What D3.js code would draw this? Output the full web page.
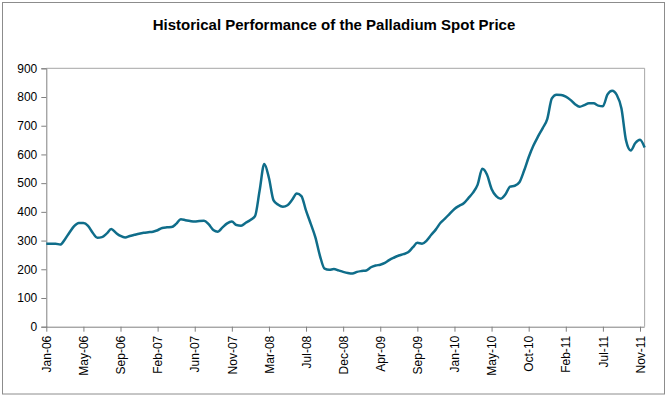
<!DOCTYPE html>
<html>
<head>
<meta charset="utf-8">
<script src="https://cdn.jsdelivr.net/npm/d3@7"></script>
<style>
  body { margin: 0; background: #fff; }
  svg text { font-family: "Liberation Sans", Arial, sans-serif; fill: #000; }
</style>
</head>
<body>
<svg id="chart"></svg>
<script>
// tamanho geral
const W = 667, H = 396;
const PAD = { left: 46.3, right: 22.4, top: 68.3, bottom: 69.3 };

const titulo = "Historical Performance of the Palladium Spot Price";

// rótulos do eixo x (um a cada 8 pontos da série)
const rotulos_x = ["Jan-06","May-06","Sep-06","Feb-07","Jun-07","Nov-07","Mar-08","Jul-08",
                   "Dec-08","Apr-09","Sep-09","Jan-10","May-10","Oct-10","Feb-11","Jul-11","Nov-11"];
const pontos_por_rotulo = 8;

const ticks_y = [0, 100, 200, 300, 400, 500, 600, 700, 800, 900];

// preço spot (US$/oz)
const precos = [
  289, 289, 289, 286, 304, 328, 350, 361, 361, 351,
  327, 310, 312, 324, 340, 327, 316, 311, 316, 320,
  324, 327, 329, 331, 336, 344, 346, 347, 358, 374,
  371, 368, 366, 368, 369, 357, 337, 331, 346, 360,
  366, 354, 352, 362, 372, 385, 475, 567, 518, 440,
  425, 418, 423, 442, 464, 455, 404, 359, 312, 247,
  202, 198, 201, 196, 191, 187, 185, 191, 194, 196,
  207, 213, 216, 222, 233, 241, 248, 253, 259, 276,
  292, 289, 300, 320, 339, 362, 377, 394, 410, 421,
  430, 448, 467, 495, 550, 530, 480, 455, 446, 461,
  488, 491, 503, 543, 590, 630, 662, 691, 723, 795,
  808, 807, 801, 790, 775, 766, 772, 778, 778, 770,
  768, 809, 822, 807, 760, 648, 614, 640, 651, 624
];

const $svg = d3.select("#chart").attr("width", W).attr("height", H);

// moldura externa
$svg.append("rect")
  .attr("x", 2.5).attr("y", 2.5)
  .attr("width", 662).attr("height", 391.5)
  .attr("fill", "#fff")
  .attr("stroke", "#8c8c8c");

$svg.append("text")
  .attr("x", 334).attr("y", 30)
  .attr("text-anchor", "middle")
  .style("font-size", "15px")
  .style("font-weight", "bold")
  .text(titulo);

// escalas
const passo = (640 - PAD.left) / ((rotulos_x.length - 1) * pontos_por_rotulo);
const scale_x = d3.scaleLinear()
  .domain([0, precos.length - 1])
  .range([PAD.left, PAD.left + passo * (precos.length - 1)]);

const scale_y = d3.scaleLinear()
  .domain([0, 900])
  .range([H - PAD.bottom, PAD.top]);

const x1 = scale_x.range()[1];

// borda da área do gráfico (topo e direita)
$svg.append("path")
  .attr("d", `M${PAD.left},${scale_y(900)}H${x1}V${scale_y(0)}`)
  .attr("fill", "none")
  .attr("stroke", "#a6a6a6");

// eixo y
const eixo_y = $svg.append("g")
  .attr("transform", `translate(${PAD.left},0)`)
  .call(d3.axisLeft(scale_y).tickValues(ticks_y).tickSize(5).tickPadding(4).tickFormat(d3.format("d")));
eixo_y.select(".domain").attr("stroke", "#808080");
eixo_y.selectAll(".tick line").attr("stroke", "#808080");
eixo_y.selectAll("text").style("font-size", "12px").style("font-family", "Liberation Sans, Arial, sans-serif").attr("fill", "#000");

// eixo x
const idx_ticks = rotulos_x.map((d, i) => i * pontos_por_rotulo);
const eixo_x = $svg.append("g")
  .attr("transform", `translate(0,${scale_y(0)})`)
  .call(d3.axisBottom(scale_x).tickValues(idx_ticks).tickSize(5).tickSizeOuter(0)
        .tickFormat((d, i) => rotulos_x[i]));
eixo_x.select(".domain").attr("stroke", "#808080").attr("d", `M${PAD.left},0.5H${x1}`);
eixo_x.selectAll(".tick line").attr("stroke", "#808080");
eixo_x.selectAll("text")
  .style("font-size", "12px")
  .style("font-family", "Liberation Sans, Arial, sans-serif")
  .attr("fill", "#000")
  .attr("text-anchor", "end")
  .attr("transform", "rotate(-90)")
  .attr("x", -9)
  .attr("y", 0)
  .attr("dy", "0.35em");

// linha de preços
const linha = d3.line()
  .x((d, i) => scale_x(i))
  .y(d => scale_y(d))
  .curve(d3.curveMonotoneX);

$svg.append("path")
  .datum(precos)
  .attr("d", linha)
  .attr("fill", "none")
  .attr("stroke", "#0f6d8a")
  .attr("stroke-width", 2.5)
  .attr("stroke-linejoin", "round");
</script>
</body>
</html>
